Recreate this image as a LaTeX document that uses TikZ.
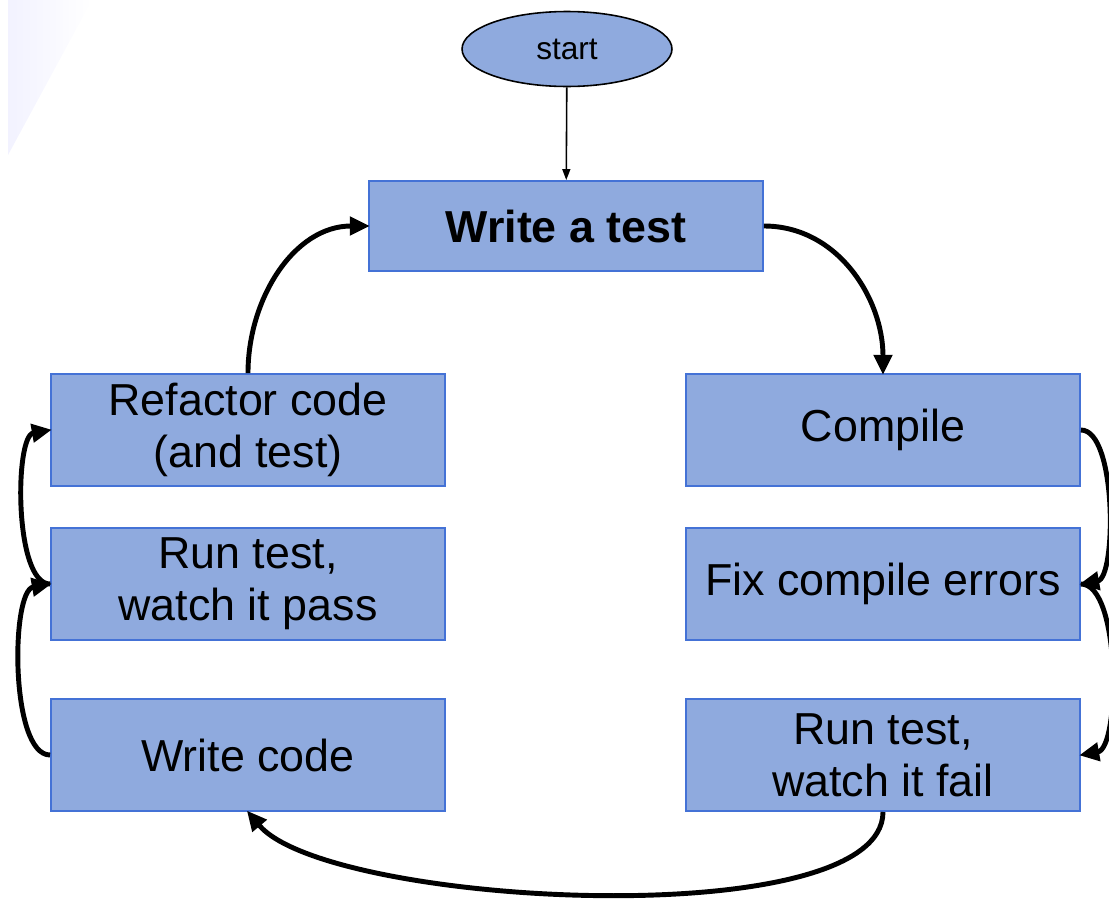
\documentclass[tikz,border=0pt]{standalone}
\usepackage{fontspec}
\setmainfont{Liberation Sans}
\usetikzlibrary{shapes.geometric,arrows.meta}
\definecolor{boxfill}{RGB}{143,170,222}
\definecolor{boxline}{RGB}{68,114,214}
\begin{document}
\begin{tikzpicture}[x=0.02cm, y=-0.02cm,
  box/.style={draw=boxline, fill=boxfill, line width=1.1pt, minimum width=7.88cm, minimum height=2.24cm, align=center, font=\fontsize{25.5}{29.5}\selectfont},
  flow/.style={-{Triangle[length=0.4cm,width=0.36cm]}, line width=2.8pt, shorten >=-1pt}]
\useasboundingbox (0,0) rectangle (1109,903);
\shade[left color=blue!5, right color=white] (8,0) -- (92,0) -- (8,155) -- cycle;
\node[ellipse, draw=black, fill=boxfill, line width=0.9pt, minimum width=4.2cm, minimum height=1.5cm, font=\fontsize{18}{20}\selectfont] (start) at (567,49) {start};
\node[box, minimum height=1.8cm, font=\fontsize{25.5}{29.5}\selectfont\bfseries] (test) at (566,226) {Write a test};
\node[box] (refactor) at (248,430) {Refactor code\\(and test)};
\node[box] (pass) at (248,584) {Run test,\\watch it pass};
\node[box] (code) at (248,755) {Write code};
\node[box] (compile) at (883,430) {Compile};
\node[box] (fix) at (883,584) {Fix compile errors};
\node[box] (fail) at (883,755) {Run test,\\watch it fail};
% connectors
\draw[-{Triangle[length=0.22cm,width=0.16cm]}, line width=0.9pt] (start) -- (test);
\draw[flow] (test.east) to[out=0,in=90] (compile.north);
\draw[flow] (compile.east) to[out=0,in=10,looseness=0.6] (fix.east);
\draw[flow] (fix.east) to[out=0,in=10,looseness=0.6] (fail.east);
\draw[flow] (fail.south) to[out=-90,in=-50,looseness=0.5] (code.south);
\draw[flow] (code.west) to[out=180,in=190,looseness=0.6] (pass.west);
\draw[flow] (pass.west) to[out=180,in=190,looseness=0.6] (refactor.west);
\draw[flow] (refactor.north) to[out=90,in=180] (test.west);
\end{tikzpicture}
\end{document}
